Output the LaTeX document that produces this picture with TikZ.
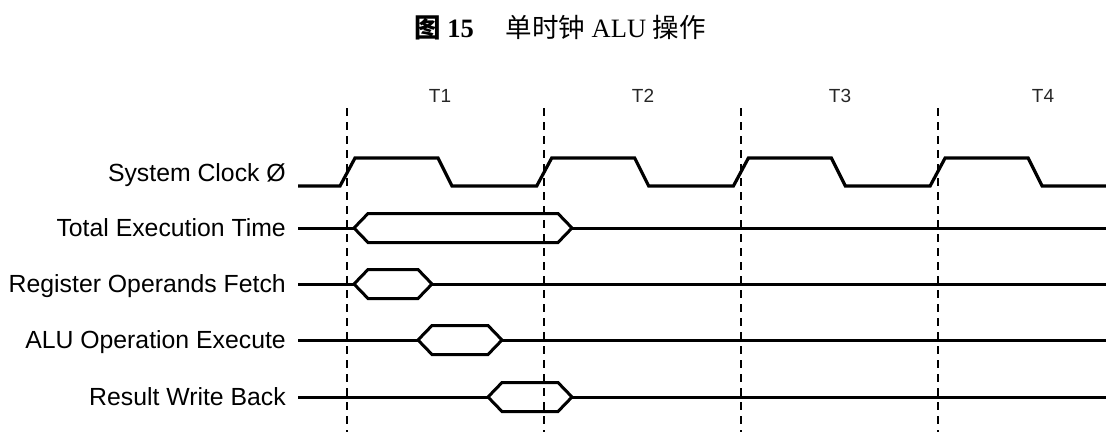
\documentclass[tikz,border=0pt]{standalone}
\usepackage{fontspec}
\setmainfont{Liberation Serif}
\setsansfont{Liberation Sans}
\newfontfamily\cjk{Noto Sans CJK SC}
\usepackage{tikz}
\usetikzlibrary{positioning}
\tikzset{
    siglabel/.style={
        anchor=base east,
        inner sep=0pt,
        font=\sffamily\fontsize{24.8}{28}\selectfont
    },
    cyclelabel/.style={
        anchor=base,
        inner sep=0pt,
        text=black!85,
        font=\sffamily\fontsize{19}{22}\selectfont
    },
    caption/.style={
        anchor=base,
        inner sep=0pt,
        font=\fontsize{26.5}{30}\selectfont
    },
    wave/.style={
        draw=black,
        line width=3.2pt
    },
    bus/.style={
        draw=black,
        line width=3pt
    },
    guide/.style={
        draw=black,
        line width=2pt,
        dash pattern=on 8pt off 6pt
    }
}

\begin{document}
\begin{tikzpicture}[x=1pt, y=-1pt]
\useasboundingbox (0,0) rectangle (1106,432);

% Caption
\node[caption] (title) at (560,37) {{\cjk\bfseries 图}\hspace{0.25em}\textbf{15}\hspace{1.2em}{\cjk 单时钟} ALU {\cjk 操作}};

% Cycle labels
\node[cyclelabel] (t1) at (440,102) {T1};
\node[cyclelabel] (t2) at (643,102) {T2};
\node[cyclelabel] (t3) at (840,102) {T3};
\node[cyclelabel] (t4) at (1043,102) {T4};

% Cycle boundaries
\foreach \x in {347,544,741,938}
    \draw[guide] (\x,108) -- (\x,432);

% Signal names
\node[siglabel] (clk) at (286,181) {System Clock Ø};
\node[siglabel] (total) at (286,236.7) {Total Execution Time};
\node[siglabel] (fetch) at (286,292.7) {Register Operands Fetch};
\node[siglabel] (exec) at (286,348.7) {ALU Operation Execute};
\node[siglabel] (wb) at (286,405.7) {Result Write Back};

% System clock
\draw[wave] (298,186)
    \foreach \k in {0,1,2,3} {
        -- ({340+196.7*\k},186) -- ({355+196.7*\k},158)
        -- ({438+196.7*\k},158) -- ({452+196.7*\k},186)
    } -- (1106,186);

% Bus phases
\foreach \y/\a/\b in {228/354/572, 284/354/432, 340/418/502, 397/488/572} {
    \draw[bus] (298,\y) -- (\a,\y);
    \draw[bus] (\a,\y) -- ({\a+14},{\y-14.5}) -- ({\b-14},{\y-14.5}) -- (\b,\y)
        -- ({\b-14},{\y+14.5}) -- ({\a+14},{\y+14.5}) -- cycle;
    \draw[bus] (\b,\y) -- (1106,\y);
}

\end{tikzpicture}
\end{document}
